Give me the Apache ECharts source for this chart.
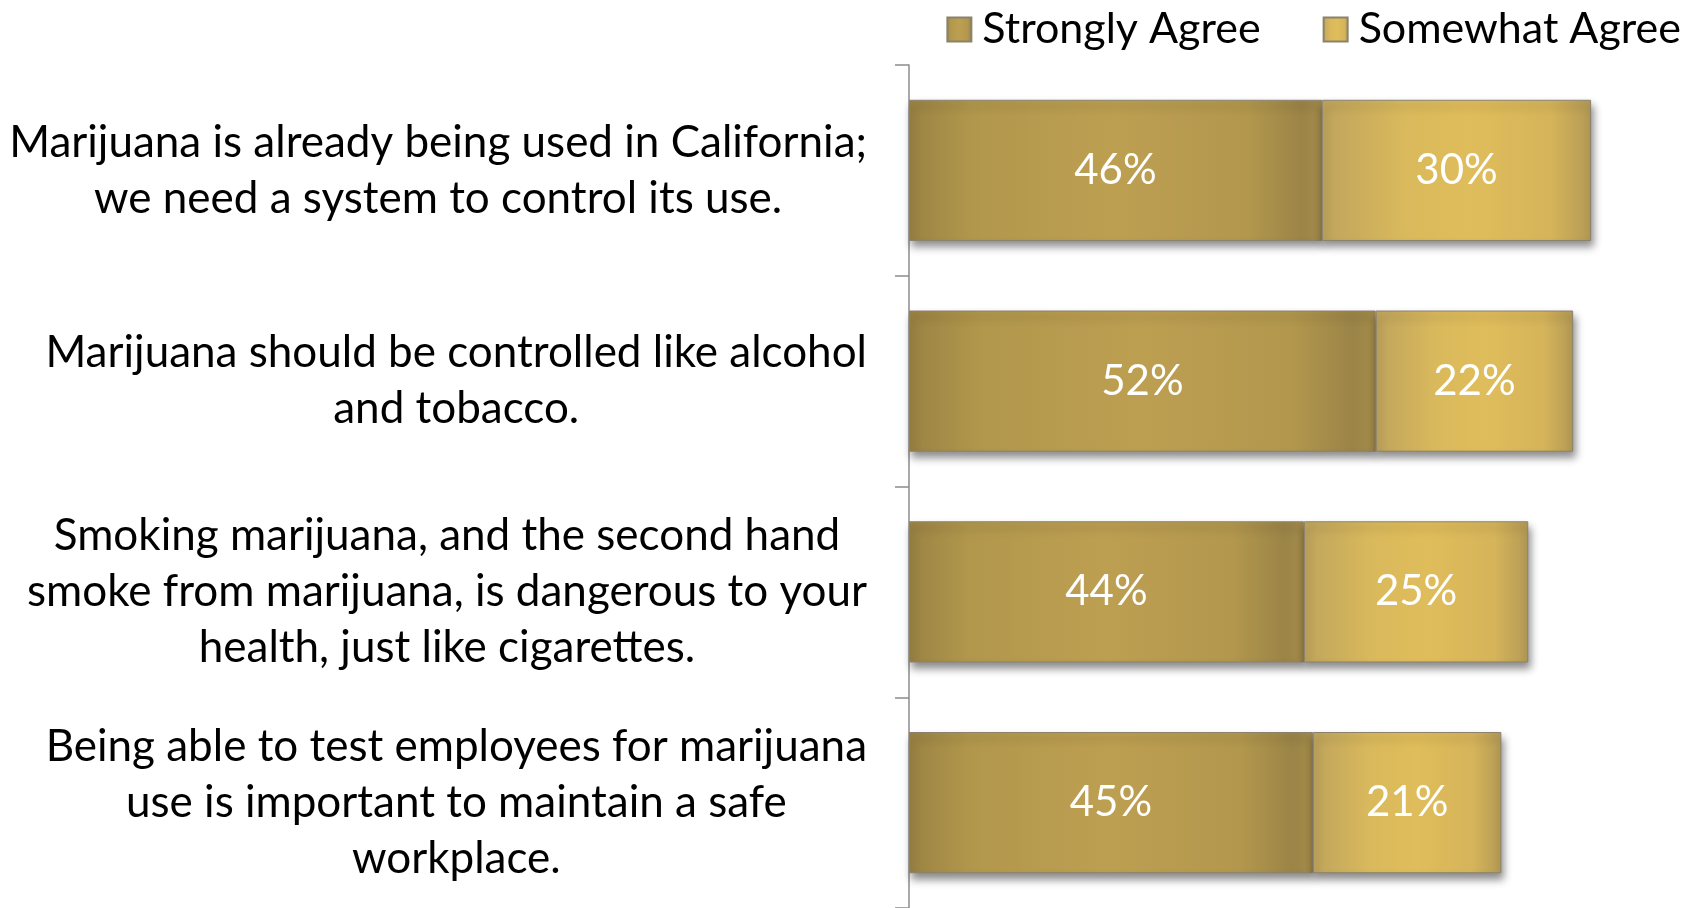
<!DOCTYPE html>
<html>
<head>
<meta charset="utf-8">
<script src="https://cdn.jsdelivr.net/npm/echarts@6/dist/echarts.min.js"></script>
<style>html,body{margin:0;padding:0;background:#fff;}#c{width:1702px;height:908px;}</style>
</head>
<body>
<div id="c"></div>
<script>
const categories = [
  "Marijuana is already being used in California;\nwe need a system to control its use.",
  "Marijuana should be controlled like alcohol\nand tobacco.",
  "Smoking marijuana, and the second hand\nsmoke from marijuana, is dangerous to your\nhealth, just like cigarettes.",
  "Being able to test employees for marijuana\nuse is important to maintain a safe\nworkplace."
];
const seriesNames = ["Strongly Agree", "Somewhat Agree"];
const stronglyAgree = [46, 52, 44, 45];
const somewhatAgree = [30, 22, 25, 21];

const FONT = "Lato";
const chart = echarts.init(document.getElementById('c'), null, {renderer: 'canvas'});

const gradStrong = new echarts.graphic.LinearGradient(0, 0, 1, 0, [
  {offset: 0, color: '#9a8243'},
  {offset: 0.15, color: '#b1974c'},
  {offset: 0.5, color: '#bd9f51'},
  {offset: 0.82, color: '#b2974d'},
  {offset: 0.95, color: '#9b8447'},
  {offset: 1, color: '#a48b4b'}
]);
const gradSome = new echarts.graphic.LinearGradient(0, 0, 1, 0, [
  {offset: 0, color: '#bfa45c'},
  {offset: 0.3, color: '#d9b95c'},
  {offset: 0.55, color: '#e0bd5b'},
  {offset: 0.85, color: '#d5b45a'},
  {offset: 1, color: '#b49a55'}
]);

const common = {
  type: 'bar',
  stack: 'total',
  barWidth: '67%',
  label: {
    show: true,
    position: 'inside',
    color: '#ffffff',
    fontFamily: FONT,
    fontSize: 42,
    formatter: p => p.value + '%'
  },
  emphasis: {disabled: true}
};

chart.setOption({
  animation: false,
  backgroundColor: '#ffffff',
  legend: {
    data: seriesNames,
    top: 3,
    right: 16,
    itemWidth: 24,
    itemHeight: 24,
    itemGap: 62,
    icon: 'rect',
    textStyle: {fontFamily: FONT, fontSize: 43, color: '#000', padding: [0, 0, 0, 6]}
  },
  grid: {left: 909, top: 65, width: 718, bottom: -4, containLabel: false},
  xAxis: {
    type: 'value',
    min: 0,
    max: 80,
    show: false
  },
  yAxis: {
    type: 'category',
    data: categories,
    inverse: true,
    axisLine: {show: true, lineStyle: {color: '#8c8c8c', width: 1.5}},
    axisTick: {show: true, length: 14, lineStyle: {color: '#8c8c8c', width: 1.5}},
    axisLabel: {
      fontFamily: FONT,
      fontSize: 44,
      lineHeight: 56,
      color: '#000',
      align: 'right',
      margin: 42,
      formatter: v => '{c|' + v + '}',
      rich: {
        c: {align: 'center', fontFamily: FONT, fontSize: 44, lineHeight: 56, color: '#000'}
      }
    },
    splitLine: {show: false}
  },
  series: [
    Object.assign({}, common, {
      name: seriesNames[0],
      data: stronglyAgree,
      itemStyle: {color: gradStrong, borderColor: '#8a826e', borderWidth: 1,
        shadowColor: 'rgba(0,0,0,0.45)', shadowBlur: 8, shadowOffsetY: 6, shadowOffsetX: 2}
    }),
    Object.assign({}, common, {
      name: seriesNames[1],
      data: somewhatAgree,
      itemStyle: {color: gradSome, borderColor: '#8a826e', borderWidth: 1,
        shadowColor: 'rgba(0,0,0,0.45)', shadowBlur: 8, shadowOffsetY: 6, shadowOffsetX: 2}
    })
  ]
});
</script>
</body>
</html>
